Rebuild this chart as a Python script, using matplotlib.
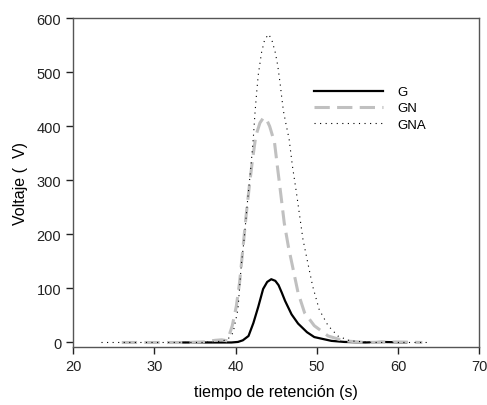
import numpy as np
import matplotlib
matplotlib.use("Agg")
import matplotlib.pyplot as plt

plt.rcParams['font.family'] = ['Liberation Sans', 'DejaVu Sans']

g_t = [33.5, 36.0, 38.0, 39.5, 40.3, 40.9, 41.6, 42.2, 42.8, 43.4, 43.9, 44.4,
       44.9, 45.3, 45.7, 46.1, 46.9, 47.7, 48.8, 49.7, 51.8, 53.4, 56.0, 58.0,
       61.0]
g_v = [0, 0, 0, 0, 1, 4, 12, 36, 66, 99, 112, 117,
       114, 106, 92, 77, 52, 35, 19, 10, 3, 1, 0, 1,
       0]

gn_t = [26.0, 30.0, 34.0, 36.0, 37.5, 38.3, 39.0, 39.6, 40.1, 40.5, 40.9, 41.3,
        41.7, 42.1, 42.5, 43.0, 43.45, 43.8, 44.2, 44.8, 45.2, 45.6, 46.0, 46.5,
        47.1, 47.7, 48.5, 49.7, 51.4, 53.4, 56.0, 60.0, 63.0]
gn_v = [0, 0, 0, 1, 4, 5, 3, 31, 67, 111, 172, 234,
        289, 339, 382, 406, 416, 413, 400, 370, 320, 271, 221, 178,
        135, 92, 55, 31, 12, 3, 0, 1, 0]

gna_t = [23.5, 28.0, 32.0, 36.0, 38.0, 39.0, 39.7, 40.3, 40.7, 41.1, 41.5, 41.9,
         42.2, 42.4, 42.6, 42.8, 43.2, 43.6, 44.1, 44.5, 44.9, 45.2, 45.5, 45.7,
         45.9, 46.2, 46.6, 47.0, 47.5, 47.9, 48.3, 48.9, 49.5, 50.3, 51.4, 52.6,
         54.1, 57.0, 61.0, 64.0]
gna_v = [0, 0, 0, 0, 2, 5, 18, 61, 141, 197, 265, 326,
         380, 425, 462, 495, 536, 561, 570, 558, 536, 512, 478, 452,
         428, 405, 376, 327, 277, 234, 191, 147, 104, 61, 31, 12,
         3, 0, 0, 0]

fig = plt.figure(figsize=(4.87, 4.06), dpi=100)
ax = fig.add_axes([0.150, 0.142, 0.834, 0.811])

ax.plot(g_t, g_v, color='black', lw=1.6, label='G', solid_joinstyle='round')
ax.plot(gn_t, gn_v, color='#c0c0c0', lw=2.2, dashes=(5, 2.4), label='GN',
        dash_joinstyle='round')
ax.plot(gna_t, gna_v, color='black', lw=0.8, dashes=(1, 4), label='GNA')

ax.set_xlim(20, 70)
ax.set_ylim(-9, 600)
ax.set_xticks([20, 30, 40, 50, 60, 70])
ax.set_yticks([0, 100, 200, 300, 400, 500, 600])
ax.tick_params(direction='out', length=5, width=1, labelsize=10.5,
               top=False, right=False, colors='#222222')
for sp in ax.spines.values():
    sp.set_color('#555555')
    sp.set_linewidth(1)

ax.set_xlabel('tiempo de retención (s)', fontsize=11.5, labelpad=8)
ax.set_ylabel('Voltaje (  V)', fontsize=11.5, labelpad=6)

ax.legend(loc='upper left', bbox_to_anchor=(0.565, 0.83), frameon=False,
          fontsize=9.5, handlelength=5.2, handletextpad=1.1, labelspacing=0.3)

fig.savefig('out.png', dpi=100)
